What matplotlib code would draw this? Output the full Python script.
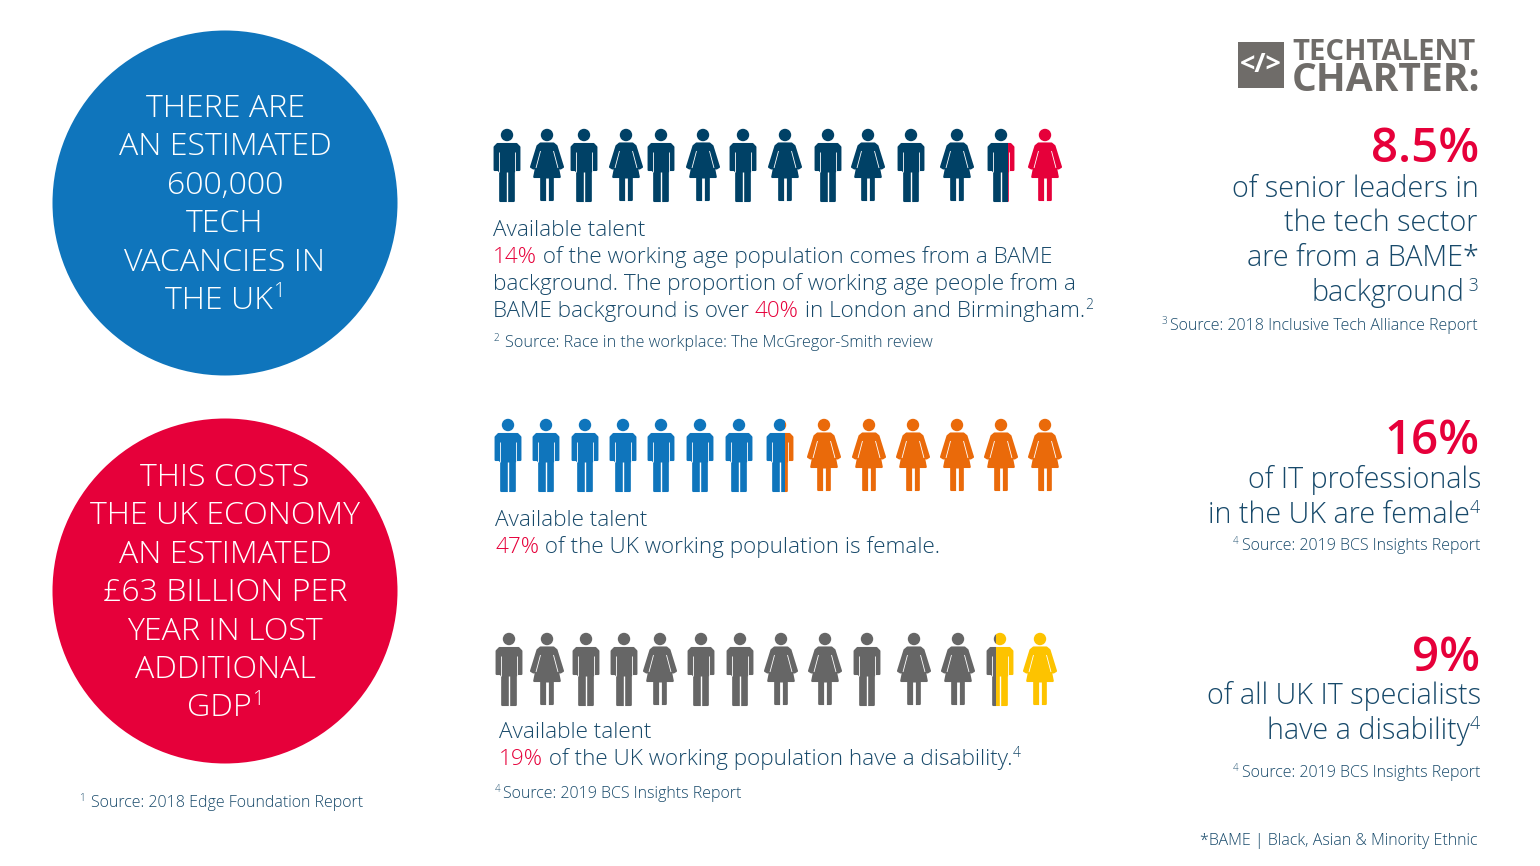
"""Tech talent infographic: circles, people pictograms and key figures."""

import matplotlib

matplotlib.use("Agg")
import matplotlib.pyplot as plt
from matplotlib.patches import Circle, Polygon, Rectangle

FONT = "Open Sans"
NAVY = "#004166"
TEXT = "#17496a"
BLUE = "#0f75bc"
RED = "#e6003a"
ORANGE = "#ea6a0a"
GREY = "#666666"
YELLOW = "#fdc300"
LOGO = "#6f6c69"

# people rows, M = man, W = woman
bame_people = list("MWMWMWMWMWMWMW")
female_people = list("MMMMMMMMWWWWWW")
disability_people = list("MWMMWMMWWMWWMW")

# how much of the split figure is drawn in the base colour
bame_split = 0.77
female_split = 0.69
disability_split = 0.35

# how many figures are drawn in the base colour before the split one
bame_base = 12
female_base = 7
disability_base = 12

blue_circle = ["THERE ARE", "AN ESTIMATED", "600,000", "TECH", "VACANCIES IN", "THE UK"]
red_circle = ["THIS COSTS", "THE UK ECONOMY", "AN ESTIMATED", "£63 BILLION PER",
              "YEAR IN LOST", "ADDITIONAL", "GDP"]

MAN = [(-9.5, 16), (9.5, 16), (12.4, 19), (12.4, 42), (8.7, 42), (6.8, 44), (6.8, 73), (-6.8, 73),
       (-6.8, 44), (-8.7, 42), (-12.4, 42), (-12.4, 19)]
WOMAN = [(-6.5, 15.5), (6.5, 15.5), (9.5, 18), (16, 39), (13.5, 40.5), (11, 40), (12.8, 49),
         (5.8, 49), (5.8, 72), (-5.8, 72), (-5.8, 49), (-12.8, 49), (-11, 40), (-13.5, 40.5),
         (-16, 39), (-9.5, 18)]


def px(size):
    return size * 0.72


def draw_figure(ax, kind, cx, top, color, clip=None):
    """One person; clip is an optional (x0, x1) window for split figures."""
    parts = []
    if kind == "M":
        outline = MAN
        gaps = [((-7.7, 24), (-7.7, 44), 0.6), ((7.7, 24), (7.7, 44), 0.6), ((0, 44), (0, 75), 1.0)]
    else:
        outline = WOMAN
        gaps = [((-6.5, 23), (-11, 40), 0.6), ((6.5, 23), (11, 40), 0.6), ((0, 50), (0, 74), 2.0)]
    parts.append(ax.add_patch(Polygon([(cx + a, top + b) for a, b in outline], closed=True,
                                      fc=color, ec=color, lw=1.5, joinstyle="round")))
    parts.append(ax.add_patch(Circle((cx, top + 7), 6.2, fc=color, ec="none")))
    for (a0, b0), (a1, b1), width in gaps:
        line, = ax.plot([cx + a0, cx + a1], [top + b0, top + b1], color="white", lw=width,
                        solid_capstyle="butt")
        parts.append(line)
    if clip is not None:
        window = Rectangle((clip[0], top - 5), clip[1] - clip[0], 90, transform=ax.transData)
        for part in parts:
            part.set_clip_path(window)


def draw_row(ax, people, xs, top, base, accent, n_base, split):
    for i, (kind, cx) in enumerate(zip(people, xs)):
        if i < n_base:
            draw_figure(ax, kind, cx, top, base)
        elif i == n_base:
            edge = cx - 13.7 + 27.4 * split
            draw_figure(ax, kind, cx, top, base, (cx - 20, edge))
            draw_figure(ax, kind, cx, top, accent, (edge, cx + 20))
        else:
            draw_figure(ax, kind, cx, top, accent)


def runs(ax, x, y, parts, size, ha="left", weight="light"):
    """Text on one baseline from (text, colour, superscript?) pieces."""
    renderer = ax.figure.canvas.get_renderer()
    items = []
    total = 0
    for text, color, sup in parts:
        s = size * 0.62 if sup else size
        t = ax.text(0, 0, text, fontsize=px(s), color=color, family=FONT, weight=weight,
                    va="baseline", ha="left")
        w = t.get_window_extent(renderer).width
        items.append((t, w, sup))
        total += w
    pos = x - total if ha == "right" else x - total / 2 if ha == "center" else x
    for t, w, sup in items:
        t.set_position((pos, y - size * 0.36 if sup else y))
        pos += w


fig = plt.figure(figsize=(15.4, 8.66), dpi=100)
ax = fig.add_axes([0, 0, 1, 1])
ax.set_xlim(0, 1540)
ax.set_ylim(866, 0)
ax.axis("off")

# circles
ax.add_patch(Circle((225, 203), 172.5, fc=BLUE, ec="none"))
ax.add_patch(Circle((225, 591), 172.5, fc=RED, ec="none"))
for i, line in enumerate(blue_circle):
    parts = [(line, "white", False)]
    if line == "THE UK":
        parts.append(("1", "white", True))
    runs(ax, 225, 117 + 38.4 * i, parts, 32.2, ha="center")
for i, line in enumerate(red_circle):
    parts = [(line, "white", False)]
    if line == "GDP":
        parts.append(("1", "white", True))
    runs(ax, 225, 486 + 38.4 * i, parts, 32.2, ha="center")
runs(ax, 80, 807, [("1  ", TEXT, True), ("Source: 2018 Edge Foundation Report", TEXT, False)], 16)

# pictograms
draw_row(ax, bame_people, [507, 547, 584, 626, 661, 703, 743, 785, 828, 868, 911, 957, 1001, 1045],
         128, NAVY, RED, bame_base, bame_split)
draw_row(ax, female_people, [508, 546, 585, 623, 661, 700, 739, 780, 824, 869, 913, 957, 1001, 1045],
         418, BLUE, ORANGE, female_base, female_split)
draw_row(ax, disability_people, [509, 547, 586, 624, 660, 701, 740, 781, 825, 867, 914, 958, 1000, 1040],
         632, GREY, YELLOW, disability_base, disability_split)

# middle column text
BODY = 22.5
runs(ax, 493, 236, [("Available talent", TEXT, False)], BODY)
runs(ax, 493, 263, [("14%", RED, False), (" of the working age population comes from a BAME", TEXT, False)], BODY)
runs(ax, 493, 290, [("background. The proportion of working age people from a", TEXT, False)], BODY)
runs(ax, 493, 317, [("BAME background is over ", TEXT, False), ("40%", RED, False),
                    (" in London and Birmingham.", TEXT, False), ("2", TEXT, True)], BODY)
runs(ax, 494, 347, [("2  ", TEXT, True), ("Source: Race in the workplace: The McGregor-Smith review", TEXT, False)], 16.2)

runs(ax, 495, 526, [("Available talent", TEXT, False)], BODY)
runs(ax, 495, 553, [("47%", RED, False), (" of the UK working population is female.", TEXT, False)], BODY)

runs(ax, 499, 738, [("Available talent", TEXT, False)], BODY)
runs(ax, 499, 765, [("19%", RED, False), (" of the UK working population have a disability.", TEXT, False),
                    ("4", TEXT, True)], BODY)
runs(ax, 495, 798, [("4 ", TEXT, True), ("Source: 2019 BCS Insights Report", TEXT, False)], 16)

# right column
STAT = 28.7
SOURCE = 16
runs(ax, 1479, 162, [("8.5%", RED, False)], 47.5, ha="right", weight="semibold")
runs(ax, 1479, 197, [("of senior leaders in", TEXT, False)], STAT, ha="right")
runs(ax, 1478, 231, [("the tech sector", TEXT, False)], STAT, ha="right")
runs(ax, 1479, 266, [("are from a BAME*", TEXT, False)], STAT, ha="right")
runs(ax, 1479, 301, [("background", TEXT, False), (" 3", TEXT, True)], STAT, ha="right")
runs(ax, 1478, 330, [("3 ", TEXT, True), ("Source: 2018 Inclusive Tech Alliance Report", TEXT, False)], SOURCE, ha="right")

runs(ax, 1480, 454, [("16%", RED, False)], 47.5, ha="right", weight="semibold")
runs(ax, 1481, 488, [("of IT professionals", TEXT, False)], STAT, ha="right")
runs(ax, 1480, 523, [("in the UK are female", TEXT, False), ("4", TEXT, True)], STAT, ha="right")
runs(ax, 1480, 550, [("4 ", TEXT, True), ("Source: 2019 BCS Insights Report", TEXT, False)], SOURCE, ha="right")

runs(ax, 1480, 671, [("9%", RED, False)], 47.5, ha="right", weight="semibold")
runs(ax, 1481, 704, [("of all UK IT specialists", TEXT, False)], STAT, ha="right")
runs(ax, 1480, 739, [("have a disability", TEXT, False), ("4", TEXT, True)], STAT, ha="right")
runs(ax, 1480, 777, [("4 ", TEXT, True), ("Source: 2019 BCS Insights Report", TEXT, False)], SOURCE, ha="right")

runs(ax, 1478, 845, [("*BAME | Black, Asian & Minority Ethnic", TEXT, False)], 16, ha="right")

# logo
ax.add_patch(Rectangle((1238, 42), 46, 46, fc=LOGO, ec="none"))
ax.text(1261, 65, "</>", color="white", fontsize=px(27), family=FONT, weight="bold", ha="center", va="center")
ax.text(1292, 60, "TECHTALENT", color=LOGO, fontsize=px(29.3), family=FONT, weight="bold", va="baseline")
ax.text(1292, 91, "CHARTER:", color=LOGO, fontsize=px(39), family=FONT, weight="bold", va="baseline")

fig.savefig("out.png", dpi=100)
